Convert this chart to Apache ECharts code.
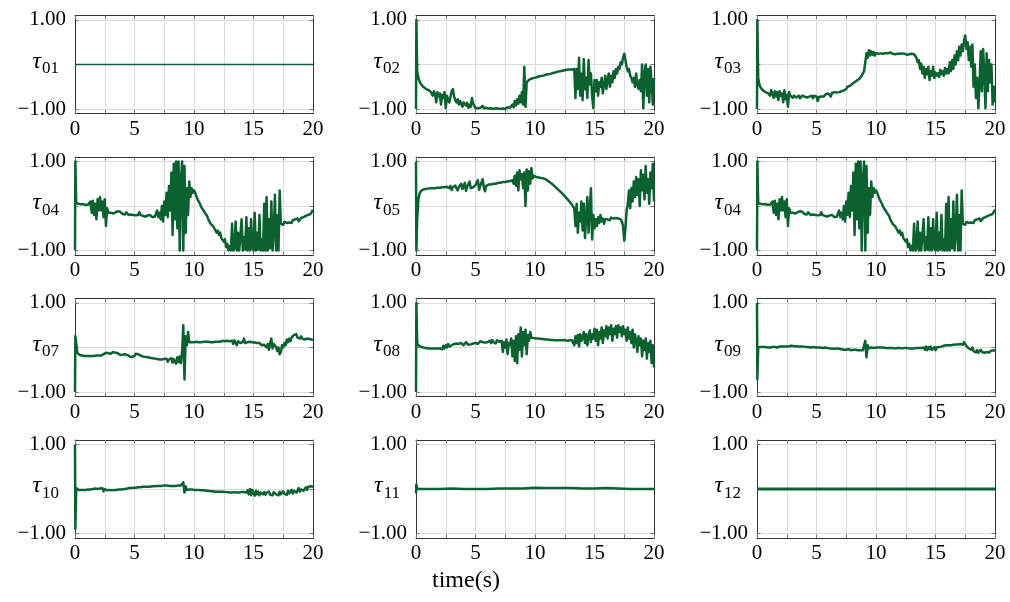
<!DOCTYPE html>
<html>
<head>
<meta charset="utf-8">
<script src="https://cdn.jsdelivr.net/npm/echarts@6/dist/echarts.min.js"></script>
<style>
  html, body { margin: 0; padding: 0; background: #fff; }
  #chart { width: 1010px; height: 602px; }
</style>
</head>
<body>
<div id="chart"></div>
<script>
// Sample instants (s): start transient at 0 and 0.03, then every 0.1 s up to 20 s
const time = [0, 0.03];
for (let k = 1; k <= 200; k++) time.push(k / 10);
const timeSpan = [0, 20];
const timeCoarse = [0, 0.03, 0.1, 1, 2, 3, 4, 5, 6, 7, 8, 9, 10, 11, 12, 13, 14, 15, 16, 17, 18, 19, 20];

const xTicks = [0, 5, 10, 15, 20];
const yTicks = [-1, 0, 1];

const tau01 = [0, 0];
const tau12 = [0, 0];

const tau02 = [-1.00, 1.00,
 -0.15,-0.30,-0.38,-0.43,-0.47,-0.50,-0.52,-0.54,-0.56,-0.57,
 -0.59,-0.60,-0.62,-0.70,-0.60,-0.66,-0.85,-0.62,-0.72,-0.65,
 -0.90,-0.68,-0.75,-0.62,-0.98,-0.70,-0.80,-0.85,-0.72,-0.60,
 -0.55,-0.72,-0.80,-0.85,-0.78,-0.90,-0.82,-0.86,-0.95,-0.85,
 -0.88,-0.92,-0.86,-0.97,-0.90,-0.95,-0.75,-0.88,-0.93,-0.98,
 -0.96,-0.98,-0.99,-0.97,-0.99,-0.93,-0.98,-0.99,-0.97,-0.99,
 -0.99,-1.00,-0.98,-0.99,-1.00,-0.99,-0.98,-1.00,-0.99,-0.99,
 -1.00,-0.98,-0.99,-0.97,-1.00,-0.98,-0.96,-0.99,-0.97,-0.95,
 -0.90,-0.96,-0.82,-0.92,-0.78,-0.88,-0.70,-0.85,-0.62,-0.90,
 -0.05,-0.95,-0.40,-0.36,-0.34,-0.33,-0.32,-0.31,-0.30,-0.29,
 -0.29,-0.28,-0.27,-0.27,-0.26,-0.25,-0.25,-0.24,-0.23,-0.22,
 -0.22,-0.21,-0.21,-0.20,-0.19,-0.19,-0.18,-0.17,-0.16,-0.15,
 -0.15,-0.14,-0.14,-0.13,-0.13,-0.12,-0.12,-0.12,-0.11,-0.11,
 -0.11,-0.10,-0.10,-0.75,-0.10,-0.55, 0.15,-0.70,-0.20,-0.80,
  0.12,-0.55,-0.30,-0.75, 0.10,-0.45,-0.20,-0.70,-0.98,-0.35,
 -0.60,-0.35,-0.70,-0.40,-0.50,-0.30,-0.65,-0.45,-0.25,-0.55,
 -0.35,-0.20,-0.50,-0.25,-0.40,-0.15,-0.30,-0.10,-0.20,-0.05,
 -0.10, 0.05, 0.00, 0.15, 0.24, 0.10,-0.05,-0.15,-0.10,-0.25,
 -0.30,-0.40,-0.30,-0.50,-0.20,-0.45,-0.55,-0.35,-0.60, 0.00,
 -0.98,-0.20, 0.00,-0.70,-0.10,-0.85,-0.05,-0.40,-0.90,-0.30];

const tau03 = [-1.00, 1.00,
 -0.30,-0.45,-0.52,-0.56,-0.58,-0.60,-0.62,-0.60,-0.64,-0.62,
 -0.70,-0.58,-0.66,-0.75,-0.60,-0.72,-0.62,-0.80,-0.60,-0.70,
 -0.65,-0.85,-0.58,-0.78,-0.68,-0.95,-0.62,-0.70,-0.72,-0.75,
 -0.70,-0.68,-0.74,-0.72,-0.70,-0.76,-0.73,-0.70,-0.66,-0.72,
 -0.70,-0.74,-0.78,-0.72,-0.69,-0.70,-0.76,-0.70,-0.68,-0.72,
 -0.82,-0.73,-0.70,-0.72,-0.68,-0.72,-0.68,-0.66,-0.70,-0.65,
 -0.68,-0.72,-0.64,-0.66,-0.62,-0.66,-0.63,-0.60,-0.62,-0.58,
 -0.60,-0.56,-0.58,-0.54,-0.55,-0.50,-0.52,-0.48,-0.50,-0.44,
 -0.46,-0.40,-0.42,-0.36,-0.38,-0.32,-0.33,-0.25,-0.28,-0.15,
  0.05, 0.25, 0.15, 0.32, 0.20, 0.30, 0.22, 0.28, 0.20, 0.26,
  0.22, 0.24, 0.23, 0.25, 0.23, 0.24, 0.25, 0.26, 0.24, 0.25,
  0.24, 0.27, 0.25, 0.24, 0.26, 0.23, 0.25, 0.24, 0.22, 0.24,
  0.23, 0.25, 0.22, 0.24, 0.23, 0.22, 0.24, 0.23, 0.21, 0.24,
  0.22, 0.23, 0.20, 0.15, 0.05, 0.10,-0.10, 0.02,-0.20,-0.05,
 -0.30,-0.10,-0.22,-0.05,-0.35,-0.15,-0.25,-0.05,-0.30,-0.18,
 -0.25,-0.20,-0.28,-0.12,-0.22,-0.15,-0.25,-0.08,-0.20,-0.10,
 -0.20, 0.05,-0.15, 0.10,-0.10, 0.20, 0.00, 0.30, 0.10, 0.40,
  0.20, 0.45, 0.30, 0.55, 0.65, 0.35, 0.50, 0.10, 0.40,-0.05,
  0.45,-0.50, 0.00,-0.75,-0.30,-0.98,-0.45, 0.30,-0.60, 0.35,
 -0.20,-0.98, 0.25,-0.60, 0.10,-0.40, 0.00,-0.90,-0.50,-0.85];

const tau04 = [-1.00, 1.00,
  0.06, 0.05, 0.05, 0.05, 0.04, 0.04, 0.04, 0.03, 0.03, 0.03,
  0.03, 0.02, 0.10,-0.15, 0.12,-0.20, 0.05,-0.30, 0.15,-0.10,
  0.20,-0.10, 0.10,-0.25, 0.15,-0.45,-0.05,-0.15,-0.18,-0.15,
 -0.16,-0.17,-0.15,-0.14,-0.16,-0.12,-0.16,-0.13,-0.16,-0.18,
 -0.17,-0.19,-0.14,-0.18,-0.20,-0.16,-0.19,-0.17,-0.20,-0.18,
 -0.21,-0.18,-0.20,-0.14,-0.20,-0.19,-0.22,-0.21,-0.24,-0.22,
 -0.21,-0.24,-0.20,-0.23,-0.25,-0.22,-0.24,-0.20,-0.10,-0.25,
 -0.15,-0.30, 0.00,-0.35, 0.10,-0.20, 0.30,-0.25, 0.45,-0.10,
  0.75,-0.65, 0.95,-0.30, 1.00,-0.50, 1.00,-1.00, 0.60, 1.00,
 -1.00, 0.90,-0.60, 0.40,-0.20, 0.55, 0.20, 0.40, 0.30, 0.35,
  0.30, 0.22, 0.15, 0.10, 0.05,-0.02,-0.05,-0.10,-0.15,-0.18,
 -0.22,-0.30,-0.28,-0.40,-0.38,-0.45,-0.50,-0.48,-0.60,-0.55,
 -0.65,-0.60,-0.72,-0.68,-0.80,-0.75,-0.92,-0.85,-1.00,-0.90,
 -1.00,-0.40,-1.00,-0.95,-0.35,-1.00,-0.60,-1.00,-0.98,-0.30,
 -1.00,-0.70,-0.98,-0.25,-1.00,-0.50,-1.00,-0.30,-0.95,-1.00,
 -0.15,-1.00,-0.60,-0.98,-0.20,-1.00,-0.75,-1.00, 0.05,-1.00,
  0.20,-1.00,-0.30,-0.95, 0.10,-1.00,-0.60, 0.25,-1.00,-0.20,
 -1.00, 0.35,-0.40,-0.38,-0.42,-0.36,-0.40,-0.38,-0.35,-0.37,
 -0.34,-0.38,-0.32,-0.36,-0.30,-0.33,-0.28,-0.34,-0.30,-0.27,
 -0.30,-0.25,-0.28,-0.22,-0.26,-0.20,-0.22,-0.18,-0.15,-0.08];

const tau05 = [1.00, -1.00,
 -0.30, 0.15, 0.28, 0.33, 0.35, 0.37, 0.38, 0.38, 0.39, 0.39,
  0.39, 0.40, 0.39, 0.40, 0.41, 0.40, 0.40, 0.41, 0.40, 0.41,
  0.41, 0.42, 0.40, 0.42, 0.41, 0.43, 0.41, 0.40, 0.45, 0.36,
  0.42, 0.44, 0.46, 0.40, 0.35, 0.42, 0.46, 0.50, 0.38, 0.44,
  0.52, 0.34, 0.43, 0.45, 0.55, 0.40, 0.38, 0.42, 0.44, 0.47,
  0.50, 0.58, 0.36, 0.45, 0.47, 0.60, 0.42, 0.33, 0.45, 0.47,
  0.48, 0.49, 0.48, 0.50, 0.50, 0.51, 0.50, 0.52, 0.52, 0.53,
  0.52, 0.53, 0.54, 0.53, 0.54, 0.55, 0.55, 0.54, 0.56, 0.55,
  0.58, 0.50, 0.68, 0.45, 0.75, 0.35, 0.80, 0.60, 0.72, 0.40,
  0.75, 0.00, 0.82, 0.35, 0.78, 0.50, 0.85, 0.62, 0.68, 0.66,
  0.65, 0.66, 0.64, 0.65, 0.63, 0.64, 0.62, 0.60, 0.60, 0.58,
  0.56, 0.54, 0.52, 0.50, 0.48, 0.46, 0.43, 0.41, 0.38, 0.36,
  0.33, 0.31, 0.28, 0.25, 0.22, 0.19, 0.16, 0.13, 0.10, 0.06,
  0.03, 0.00,-0.05,-0.45, 0.05,-0.60,-0.15,-0.35, 0.10,-0.55,
  0.05,-0.72,-0.25, 0.20,-0.60,-0.10, 0.40,-0.75,-0.20,-0.50,
 -0.30,-0.45,-0.25,-0.38,-0.20,-0.35,-0.28,-0.40,-0.30,-0.33,
 -0.30,-0.28,-0.32,-0.26,-0.30,-0.28,-0.25,-0.27,-0.24,-0.28,
 -0.26,-0.30,-0.35,-0.45,-0.78,-0.50,-0.10, 0.05, 0.35,-0.05,
  0.40, 0.10, 0.55, 0.20, 0.65, 0.25, 0.60, 0.00, 0.80, 0.35,
  0.70, 0.15, 0.90, 0.30, 0.60, 0.05, 0.75, 0.40, 0.95, 0.10];

const tau07 = [-1.00, 0.25,
  0.10,-0.12,-0.16,-0.17,-0.18,-0.18,-0.19,-0.19,-0.19,-0.19,
 -0.19,-0.19,-0.20,-0.19,-0.20,-0.19,-0.19,-0.18,-0.19,-0.18,
 -0.17,-0.18,-0.16,-0.15,-0.16,-0.12,-0.15,-0.13,-0.10,-0.14,
 -0.12,-0.10,-0.14,-0.12,-0.16,-0.13,-0.15,-0.17,-0.14,-0.16,
 -0.18,-0.15,-0.12,-0.17,-0.14,-0.20,-0.18,-0.21,-0.17,-0.19,
 -0.14,-0.12,-0.15,-0.17,-0.18,-0.19,-0.20,-0.20,-0.21,-0.22,
 -0.22,-0.23,-0.23,-0.24,-0.24,-0.25,-0.25,-0.26,-0.26,-0.27,
 -0.27,-0.28,-0.27,-0.29,-0.26,-0.30,-0.25,-0.32,-0.27,-0.30,
 -0.24,-0.34,-0.26,-0.30,-0.36,-0.22,-0.33,-0.20,-0.35,-0.10,
  0.50,-0.72, 0.25, 0.05, 0.35, 0.12, 0.15, 0.12, 0.13, 0.12,
  0.12, 0.13, 0.12, 0.12, 0.13, 0.12, 0.12, 0.13, 0.12, 0.13,
  0.12, 0.13, 0.13, 0.12, 0.14, 0.12, 0.13, 0.13, 0.12, 0.13,
  0.14, 0.13, 0.12, 0.15, 0.12, 0.14, 0.13, 0.15, 0.12, 0.14,
  0.13, 0.15, 0.08, 0.16, 0.12, 0.05, 0.14, 0.17, 0.10, 0.14,
  0.12, 0.20, 0.10, 0.14, 0.12, 0.11, 0.13, 0.10, 0.12, 0.09,
  0.11, 0.08, 0.10, 0.06, 0.10, 0.08, 0.05, 0.09, 0.06, 0.08,
  0.00, 0.08,-0.05, 0.10, 0.20,-0.02, 0.08, 0.05, 0.01,-0.08,
  0.00,-0.15,-0.10, 0.05, 0.00, 0.10, 0.05, 0.18, 0.12, 0.20,
  0.14, 0.22, 0.18, 0.28, 0.25, 0.30, 0.22, 0.26, 0.20, 0.25,
  0.20, 0.24, 0.18, 0.22, 0.20, 0.21, 0.19, 0.20, 0.18, 0.16];

const tau08 = [-1.00, 1.00,
  0.10, 0.05, 0.03, 0.02, 0.01, 0.00, 0.00,-0.01,-0.01,-0.02,
 -0.02,-0.02,-0.03,-0.02,-0.03,-0.02,-0.03,-0.02,-0.04,-0.02,
  0.00,-0.04, 0.04,-0.02, 0.05, 0.00, 0.08, 0.02, 0.06, 0.05,
  0.06, 0.08, 0.05, 0.09, 0.06, 0.08, 0.04, 0.10, 0.07, 0.05,
  0.08, 0.12, 0.08, 0.06, 0.10, 0.07, 0.11, 0.09, 0.13, 0.10,
  0.12, 0.08, 0.12, 0.14, 0.10, 0.12, 0.13, 0.11, 0.15, 0.12,
  0.13, 0.15, 0.10, 0.17, 0.12, 0.14, 0.09, 0.16, 0.12, 0.13,
  0.10, 0.15,-0.10, 0.12, 0.00, 0.18,-0.15, 0.10, 0.05, 0.20,
 -0.20, 0.15,-0.30, 0.25,-0.35, 0.30,-0.05, 0.45,-0.20, 0.35,
  0.05, 0.40,-0.15, 0.28, 0.15, 0.35, 0.22, 0.20, 0.21, 0.20,
  0.20, 0.19, 0.20, 0.19, 0.19, 0.18, 0.19, 0.18, 0.18, 0.17,
  0.18, 0.17, 0.17, 0.16, 0.17, 0.16, 0.16, 0.15, 0.16, 0.15,
  0.16, 0.15, 0.16, 0.15, 0.17, 0.16, 0.15, 0.17, 0.16, 0.17,
  0.16, 0.20, 0.05, 0.25, 0.10, 0.28, 0.02, 0.30, 0.15, 0.22,
  0.35, 0.10, 0.30, 0.05, 0.25, 0.38, 0.12, 0.30, 0.20, 0.42,
  0.15, 0.40, 0.05, 0.35, 0.20, 0.45, 0.10, 0.38, 0.25, 0.48,
  0.20, 0.45, 0.30, 0.50, 0.15, 0.42, 0.30, 0.48, 0.22, 0.50,
  0.35, 0.45, 0.25, 0.48, 0.30, 0.40, 0.15, 0.45, 0.20, 0.35,
  0.10, 0.40, 0.00, 0.30, 0.15,-0.10, 0.25, 0.05, 0.20,-0.20,
  0.15,-0.05, 0.20,-0.25, 0.10,-0.10, 0.15,-0.35, 0.05,-0.45];

const tau09 = [1.00, -0.72,
  0.00, 0.01, 0.01, 0.00, 0.01, 0.00, 0.01, 0.00, 0.00, 0.01,
  0.00, 0.01, 0.01, 0.02, 0.01, 0.01, 0.00, 0.02, 0.02, 0.01,
  0.02, 0.03, 0.02, 0.03, 0.02, 0.04, 0.03, 0.03, 0.04, 0.03,
  0.03, 0.02, 0.03, 0.02, 0.02, 0.03, 0.02, 0.01, 0.02, 0.02,
  0.01, 0.02, 0.01, 0.01, 0.00, 0.01, 0.01, 0.00, 0.00, 0.01,
  0.00,-0.01, 0.00, 0.00,-0.01,-0.01, 0.00,-0.02,-0.01,-0.02,
 -0.02,-0.02,-0.03,-0.02,-0.03,-0.03,-0.02,-0.04,-0.03,-0.04,
 -0.04,-0.04,-0.05,-0.04,-0.05,-0.05,-0.04,-0.05,-0.06,-0.05,
 -0.05,-0.06,-0.05,-0.06,-0.06,-0.05,-0.06,-0.05,-0.06,-0.06,
  0.15,-0.22, 0.05,-0.02, 0.01, 0.00, 0.00,-0.01, 0.00, 0.00,
  0.00, 0.00,-0.01, 0.00,-0.01, 0.00,-0.01,-0.01, 0.00,-0.01,
 -0.01,-0.01, 0.00,-0.01,-0.01,-0.02,-0.01,-0.01,-0.02,-0.01,
 -0.01,-0.02,-0.01,-0.01,-0.02,-0.01,-0.01,-0.02,-0.01,-0.02,
 -0.01,-0.02,-0.01,-0.01,-0.02,-0.01,-0.02,-0.01,-0.03, 0.00,
 -0.05, 0.02,-0.06, 0.01,-0.04, 0.02,-0.05,-0.01, 0.01,-0.06,
  0.00, 0.02, 0.01, 0.03, 0.02, 0.03, 0.04, 0.03, 0.05, 0.04,
  0.05, 0.06, 0.05, 0.07, 0.06, 0.08, 0.07, 0.08, 0.07, 0.09,
  0.08, 0.10, 0.06, 0.12, 0.10, 0.03, 0.07,-0.02, 0.02,-0.05,
  0.00,-0.08,-0.04,-0.11,-0.06,-0.12,-0.08,-0.05,-0.10,-0.07,
 -0.12,-0.08,-0.10,-0.06,-0.11,-0.08,-0.07,-0.10,-0.06,-0.08];

const tau10 = [1.00, -0.90,
  0.02,-0.01,-0.02,-0.01,-0.02,-0.01,-0.02,-0.01,-0.02,-0.01,
 -0.01,-0.02,-0.01,-0.01, 0.00,-0.02, 0.01,-0.01, 0.00,-0.01,
  0.01,-0.03, 0.02,-0.05, 0.00,-0.04,-0.03,-0.03,-0.02,-0.03,
 -0.03,-0.02,-0.02,-0.01,-0.02,-0.01,-0.01, 0.00,-0.01, 0.00,
  0.00, 0.01, 0.00, 0.01, 0.02, 0.01, 0.02, 0.02, 0.03, 0.02,
  0.03, 0.03, 0.04, 0.03, 0.04, 0.04, 0.05, 0.04, 0.05, 0.05,
  0.05, 0.06, 0.05, 0.06, 0.06, 0.07, 0.06, 0.07, 0.07, 0.07,
  0.07, 0.08, 0.07, 0.07, 0.08, 0.07, 0.08, 0.07, 0.07, 0.08,
  0.07, 0.08, 0.07, 0.08, 0.07, 0.07, 0.08, 0.07, 0.08, 0.07,
  0.15,-0.08, 0.06,-0.02, 0.02,-0.01, 0.00,-0.01,-0.02,-0.02,
 -0.02,-0.02,-0.03,-0.02,-0.03,-0.03,-0.02,-0.03,-0.03,-0.04,
 -0.03,-0.04,-0.04,-0.05,-0.04,-0.05,-0.05,-0.06,-0.05,-0.06,
 -0.06,-0.06,-0.07,-0.06,-0.07,-0.07,-0.08,-0.07,-0.07,-0.08,
 -0.07,-0.08,-0.08,-0.07,-0.08,-0.08,-0.07,-0.08,-0.08,-0.07,
 -0.08,-0.07,-0.08,-0.08,-0.03,-0.12, 0.00,-0.14,-0.02,-0.10,
 -0.15,-0.04,-0.12,-0.06,-0.14,-0.08,-0.05,-0.12,-0.07,-0.13,
 -0.08,-0.12,-0.06,-0.13,-0.09,-0.14,-0.07,-0.10,-0.12,-0.08,
 -0.14,-0.06,-0.12,-0.16,-0.05,-0.11,-0.08,-0.13,-0.04,-0.10,
 -0.06,-0.02,-0.10,-0.04, 0.00,-0.08,-0.03, 0.02,-0.06,-0.01,
  0.03,-0.04, 0.00, 0.04,-0.02, 0.05, 0.01, 0.06, 0.03, 0.05];

const tau11 = [-0.10, 0.10, 0.00, 0.00, 0.00, 0.01, 0.00, 0.00, 0.00, 0.01, 0.01, 0.01,
  0.03, 0.02, 0.02, 0.02, 0.01, 0.01, 0.02, 0.01, 0.00, 0.00, 0.00];

// Panels in reading order: 4 rows x 3 columns
const panels = [
  { sub: '01', t: timeSpan,   v: tau01, width: 1.3 },
  { sub: '02', t: time,       v: tau02, width: 2.5 },
  { sub: '03', t: time,       v: tau03, width: 2.5 },
  { sub: '04', t: time,       v: tau04, width: 2.5 },
  { sub: '05', t: time,       v: tau05, width: 2.5 },
  { sub: '04', t: time,       v: tau04, width: 2.5 },
  { sub: '07', t: time,       v: tau07, width: 2.5 },
  { sub: '08', t: time,       v: tau08, width: 2.5 },
  { sub: '09', t: time,       v: tau09, width: 2.5 },
  { sub: '10', t: time,       v: tau10, width: 2.5 },
  { sub: '11', t: timeCoarse, v: tau11, width: 2.5 },
  { sub: '12', t: timeSpan,   v: tau12, width: 2.8 }
];

const colLeft = [75, 416, 757];
const rowTop = [15.5, 157, 298.5, 440];
const plotW = 238;
const plotH = 98;

const FONT = '"Liberation Serif", "DejaVu Serif", serif';
const LINE = '#0c6130';
const FRAME = '#333333';
const GRID = '#dcdcdc';
const TICK = '#777777';

const grids = [], xAxes = [], yAxes = [], series = [];

panels.forEach((p, i) => {
  const r = Math.floor(i / 3), c = i % 3;
  grids.push({
    left: colLeft[c], top: rowTop[r], width: plotW, height: plotH,
    show: false, outerBoundsMode: 'none'
  });
  const xBase = {
    gridIndex: i, type: 'value', min: 0, max: 20, interval: 2.5,
    axisLine: { show: true, onZero: false, lineStyle: { color: FRAME, width: 1 } },
    axisTick: { show: true, inside: true, length: 3.5, lineStyle: { color: TICK } }
  };
  xAxes.push(Object.assign({}, xBase, {
    position: 'bottom',
    axisLabel: {
      show: true, fontFamily: FONT, fontSize: 21, color: '#000', margin: 5,
      hideOverlap: false, showMinLabel: true, showMaxLabel: true,
      formatter: v => (xTicks.indexOf(v) >= 0 ? String(v) : '')
    },
    splitLine: { show: true, lineStyle: { color: GRID, width: 1 } }
  }));
  xAxes.push(Object.assign({}, xBase, {
    position: 'top',
    axisLabel: { show: false },
    splitLine: { show: false }
  }));
  const yBase = {
    gridIndex: i, type: 'value', min: -1.1, max: 1.1,
    axisLine: { show: true, onZero: false, lineStyle: { color: FRAME, width: 1 } },
    axisTick: { show: true, inside: true, length: 3.5, customValues: yTicks, lineStyle: { color: TICK } }
  };
  yAxes.push(Object.assign({}, yBase, {
    position: 'left',
    axisLabel: {
      show: true, customValues: yTicks, fontFamily: FONT, fontSize: 21, color: '#000', margin: 9,
      formatter: v => {
        if (Math.abs(v) < 1e-9) return '{t|τ}{s|' + p.sub + '}';
        return (v < 0 ? '\u2212' : '') + Math.abs(v).toFixed(2);
      },
      rich: {
        t: { fontFamily: FONT, fontStyle: 'italic', fontSize: 24, color: '#000', lineHeight: 26, verticalAlign: 'middle', padding: [0, 1, 6, 0] },
        s: { fontFamily: FONT, fontSize: 17, color: '#000', lineHeight: 16, verticalAlign: 'bottom', padding: [0, 7, 0, 0] }
      }
    },
    splitLine: { show: true, lineStyle: { color: GRID, width: 1 } }
  }));
  yAxes.push(Object.assign({}, yBase, {
    position: 'right',
    axisLabel: { show: false },
    splitLine: { show: false }
  }));
  series.push({
    type: 'line',
    xAxisIndex: 2 * i, yAxisIndex: 2 * i,
    data: p.t.map((t, k) => [t, p.v[k]]),
    showSymbol: false, symbol: 'none',
    lineStyle: { color: LINE, width: p.width, join: 'round' },
    clip: true, z: 5,
    animation: false
  });
});

const chart = echarts.init(document.getElementById('chart'), null, { renderer: 'canvas' });
chart.setOption({
  backgroundColor: '#ffffff',
  animation: false,
  grid: grids,
  xAxis: xAxes,
  yAxis: yAxes,
  series: series,
  graphic: [{
    type: 'text', left: 432, top: 569,
    style: { text: 'time(s)', fontFamily: FONT, fontSize: 24, fill: '#000' }
  }]
});
</script>
</body>
</html>
